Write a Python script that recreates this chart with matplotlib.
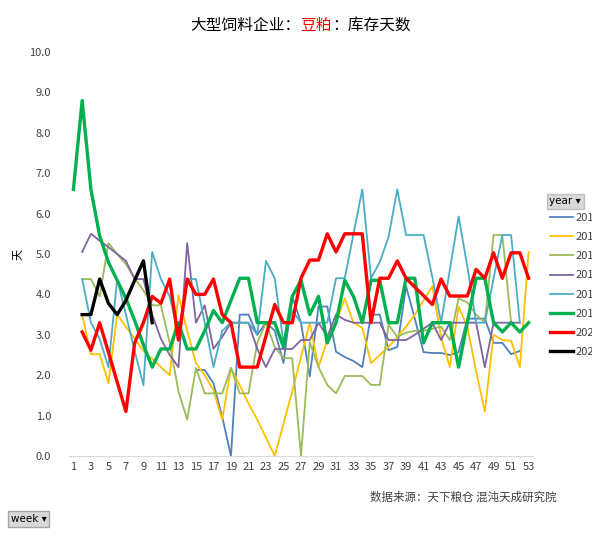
import matplotlib
matplotlib.use("Agg")
import matplotlib.pyplot as plt
import numpy as np

plt.rcParams['font.family'] = ['Noto Sans CJK SC', 'DejaVu Sans']

# weekly inventory days, one list per year (None = no data)
weeks = list(range(1, 54))
years = ["2014", "2015", "2016", "2017", "2018", "2019", "2020", "2021"]

y2014 = [None] * 14 + [2.13, 2.13, 1.8, 0.97, 0.0, 3.5, 3.5, 3.0, 3.3, 3.1,
                       2.3, 3.95, 3.3, 1.97, 3.7, 3.7, 2.58, 2.45, 2.35, 2.2,
                       3.5, 3.5, 2.62, 2.7, 4.2, 3.4, 2.57, 2.55, 2.55, 2.5,
                       2.57, 3.4, 3.4, 3.4, 2.8, 2.8, 2.52, 2.6, None]
y2015 = [None, 3.5, 2.52, 2.52, 1.8, 3.5, 3.2, 2.9, 2.6, 2.4,
         2.2, 2.0, 3.98, 3.1, 2.3, 2.0, 1.63, 0.9, 2.18, 1.75,
         1.3, 0.9, 0.45, 0.0, 0.8, 1.6, 2.45, 3.3, 2.2, 2.87,
         3.3, 3.9, 3.3, 3.17, 2.3, 2.5, 2.7, 2.95, 3.2, 3.5,
         3.85, 4.2, 2.95, 2.2, 3.7, 3.2, 2.1, 1.1, 3.0, 2.87,
         2.85, 2.2, 5.05]
y2016 = [None, 4.38, 4.38, 3.95, 5.27, 5.0, 4.75, 4.4, 4.1, 3.73,
         3.73, 2.8, 1.6, 0.9, 2.18, 1.55, 1.55, 1.55, 2.18, 1.55,
         1.55, 2.8, 3.3, 2.7, 2.42, 2.42, 0.0, 2.82, 2.2, 1.76,
         1.55, 1.98, 1.98, 1.98, 1.76, 1.76, 3.25, 2.95, 3.05, 3.1,
         3.1, 3.15, 3.2, 2.87, 3.9, 3.8, 3.5, 3.3, 5.47, 5.47,
         3.3, None, None]
y2017 = [None, 5.05, 5.5, 5.33, 5.17, 5.0, 4.83, 4.38, 4.38, 3.5,
         2.9, 2.5, 2.2, 5.27, 3.3, 3.73, 2.65, 2.95, 3.3, 3.3,
         3.3, 2.65, 2.2, 2.65, 2.65, 2.65, 2.87, 2.87, 3.3, 2.95,
         3.5, 3.37, 3.3, 3.3, 3.3, 3.3, 2.87, 2.87, 2.87, 3.0,
         3.15, 3.3, 2.87, 3.3, 3.3, 3.3, 3.3, 2.2, 3.3, 3.3,
         3.3, 3.3, None]
y2018 = [None, 4.38, 3.3, 2.9, 2.2, 4.38, 3.5, 2.6, 1.75, 5.05,
         4.38, 3.95, 3.0, 4.38, 4.38, 3.3, 2.2, 3.1, 3.3, 3.3,
         3.3, 3.0, 4.83, 4.4, 2.8, 3.6, 3.3, 3.3, 3.3, 3.3,
         4.4, 4.4, 5.5, 6.6, 4.4, 4.8, 5.42, 6.6, 5.47, 5.47,
         5.47, 4.43, 3.3, 4.6, 5.93, 4.7, 3.3, 3.3, 4.4, 5.47,
         5.47, 3.3, None]
y2019 = [6.6, 8.8, 6.6, 5.45, 4.8, 4.35, 3.9, 3.35, 2.75, 2.2,
         2.65, 2.65, 3.3, 2.65, 2.65, 3.1, 3.6, 3.3, 3.85, 4.4,
         4.4, 3.3, 3.3, 3.3, 2.7, 3.95, 4.35, 3.5, 3.95, 2.8,
         3.3, 4.35, 3.95, 3.3, 4.35, 4.35, 3.3, 3.3, 4.4, 4.4,
         2.8, 3.3, 3.3, 3.3, 2.2, 3.3, 4.4, 4.4, 3.3, 3.07,
         3.3, 3.07, 3.3]
y2020 = [None, 3.07, 2.62, 3.3, 2.57, 1.83, 1.1, 2.8, 3.3, 3.95,
         3.78, 4.38, 2.87, 4.38, 4.0, 4.0, 4.38, 3.5, 3.3, 2.2,
         2.2, 2.2, 2.97, 3.75, 3.3, 3.3, 4.4, 4.85, 4.85, 5.5,
         5.05, 5.5, 5.5, 5.5, 3.3, 4.4, 4.4, 4.83, 4.4, 4.18,
         3.97, 3.75, 4.38, 3.96, 3.96, 3.96, 4.62, 4.4, 5.03, 4.4,
         5.03, 5.03, 4.4]
y2021 = [None, 3.5, 3.5, 4.38, 3.78, 3.5, 3.85, 4.35, 4.83, 3.3] + [None] * 43

series = [y2014, y2015, y2016, y2017, y2018, y2019, y2020, y2021]
colors = ["#4F81BD", "#FFC000", "#9BBB59", "#8064A2", "#4BACC6", "#00B050", "#FF0000", "#000000"]
widths = [1.3, 1.3, 1.3, 1.3, 1.3, 2.4, 2.4, 2.4]

fig = plt.figure(figsize=(5.92, 5.40), dpi=100)
ax = fig.add_axes([0.1166, 0.1556, 0.7837, 0.748])

handles = []
for vals, c, lw, yr in zip(series, colors, widths, years):
    arr = np.array([np.nan if v is None else v for v in vals], dtype=float)
    ln, = ax.plot(weeks, arr, color=c, linewidth=lw, label=yr)
    handles.append(ln)

ax.set_xlim(0.5, 53.5)
ax.set_ylim(0, 10)
ax.set_xticks(weeks[::2])
ax.set_xticklabels([str(w) for w in weeks[::2]], fontsize=8, color="#404040")
ax.set_yticks(np.arange(0, 11, 1))
ax.set_yticklabels(["%.1f" % v for v in np.arange(0, 11, 1)], fontsize=8, color="#404040")
ax.tick_params(axis="both", length=0)
ax.tick_params(axis="y", pad=13)
ax.tick_params(axis="x", pad=4)
for s in ["left", "right", "top"]:
    ax.spines[s].set_visible(False)
ax.spines["bottom"].set_color("#D9D9D9")
ax.set_ylabel("天", fontsize=8, labelpad=4)

# title with red middle part
t1 = fig.text(0.321, 0.953, "大型饲料企业：", fontsize=11.3, va="center", ha="left")
t2 = ax.annotate("豆粕", xy=(1, 0), xycoords=t1, va="bottom", ha="left",
                 fontsize=11.3, color="red", annotation_clip=False)
ax.annotate("：库存天数", xy=(1, 0), xycoords=t2, va="bottom", ha="left",
            fontsize=11.3, annotation_clip=False)

# legend, cut at the right edge like the source
leg = ax.legend(handles=handles, loc="upper left", bbox_to_anchor=(0.929, 0.606),
                bbox_transform=fig.transFigure, frameon=False, fontsize=8,
                handlelength=2.1, handletextpad=0.2, labelspacing=0.83,
                borderpad=0, borderaxespad=0)
for txt in leg.get_texts():
    txt.set_color("#404040")

fig.text(0.928, 0.627, "year ▾", fontsize=7.5, va="center", ha="left",
         family=["DejaVu Sans"],
         bbox=dict(boxstyle="square,pad=0.25", facecolor="#D9D9D9", edgecolor="#BFBFBF"))
fig.text(0.018, 0.039, "week ▾", fontsize=7.5, va="center", ha="left",
         family=["DejaVu Sans"],
         bbox=dict(boxstyle="square,pad=0.25", facecolor="#D9D9D9", edgecolor="#A6A6A6"))

fig.text(0.941, 0.079, "数据来源：天下粮仓 混沌天成研究院", fontsize=8.3,
         ha="right", va="center", color="#404040")

fig.savefig("out.png", dpi=100)
